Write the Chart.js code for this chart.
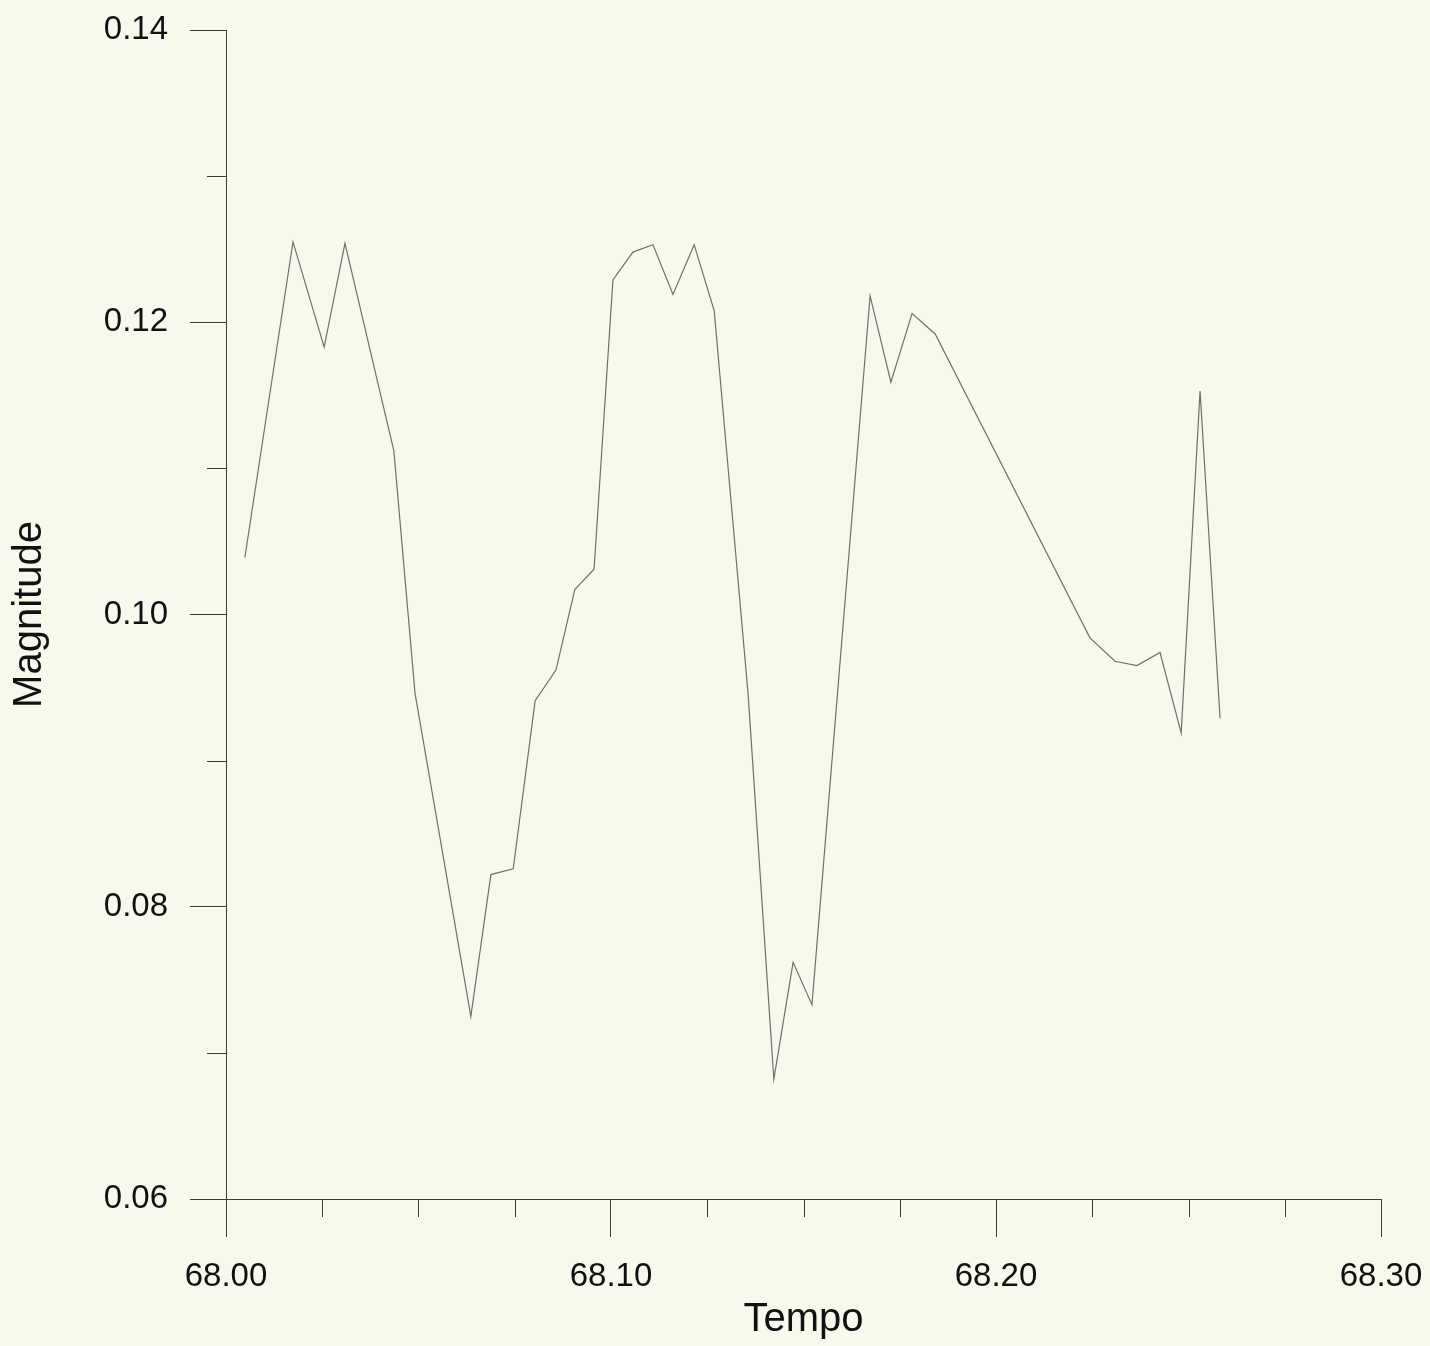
<!DOCTYPE html>
<html lang="pt-BR">
<head>
    <meta charset="UTF-8">
    <title>Magnitude x Tempo</title>
    <script src="https://cdn.jsdelivr.net/npm/chart.js"></script>
    <style>
        body { margin: 0; background: #f9f8ec; }
        .chart-container { width: 1430px; height: 1346px; position: relative; }
    </style>
</head>
<body>
    <div class="chart-container">
        <canvas id="magnitudeChart"></canvas>
    </div>
    <script>
        // dados
        const tempo = [
            68.0049, 68.0174, 68.0255, 68.0309, 68.0436, 68.0491, 68.0636, 68.0688,
            68.0746, 68.0803, 68.0857, 68.0906, 68.0956, 68.1005, 68.1057, 68.1109,
            68.1161, 68.1216, 68.1268, 68.1356, 68.1423, 68.1473, 68.1522, 68.1673,
            68.1727, 68.1782, 68.1842, 68.2244, 68.2309, 68.2366, 68.2426, 68.2481,
            68.2530, 68.2582
        ];
        const magnitude = [
            0.1039, 0.1255, 0.1183, 0.1254, 0.1112, 0.0946, 0.0725, 0.0822,
            0.0826, 0.0941, 0.0962, 0.1017, 0.1031, 0.1229, 0.1248, 0.1253,
            0.1219, 0.1253, 0.1208, 0.0946, 0.0682, 0.0762, 0.0733, 0.1218,
            0.1159, 0.1206, 0.1192, 0.0984, 0.0968, 0.0965, 0.0974, 0.0919,
            0.1153, 0.0929
        ];
        const xTicks = [68.00, 68.10, 68.20, 68.30];
        const xMinorTicks = [68.025, 68.05, 68.075, 68.125, 68.15, 68.175, 68.225, 68.25, 68.275];
        const yTicks = [0.06, 0.08, 0.10, 0.12, 0.14];
        const yMinorTicks = [0.07, 0.09, 0.11, 0.13];

        const axisColor = "#3a3a3a";
        const fontFamily = "'Liberation Sans', Arial, sans-serif";

        // ticks menores (mais curtos) desenhados com as escalas do próprio Chart.js
        const minorTicksPlugin = {
            id: "minorTicks",
            afterDraw(chart) {
                const { ctx, scales: { x, y } } = chart;
                ctx.save();
                ctx.strokeStyle = axisColor;
                ctx.lineWidth = 1;
                ctx.beginPath();
                xMinorTicks.forEach(v => {
                    const px = Math.round(x.getPixelForValue(v)) + 0.5;
                    ctx.moveTo(px, x.top);
                    ctx.lineTo(px, x.top + 18);
                });
                yMinorTicks.forEach(v => {
                    const py = Math.round(y.getPixelForValue(v)) + 0.5;
                    ctx.moveTo(y.right, py);
                    ctx.lineTo(y.right - 19, py);
                });
                ctx.stroke();
                ctx.restore();
            }
        };

        new Chart(document.getElementById("magnitudeChart"), {
            type: "line",
            data: {
                datasets: [{
                    label: "Magnitude",
                    data: tempo.map((t, i) => ({ x: t, y: magnitude[i] })),
                    borderColor: "#707070",
                    borderWidth: 1.2,
                    pointRadius: 0,
                    tension: 0,
                    fill: false
                }]
            },
            options: {
                responsive: true,
                maintainAspectRatio: false,
                animation: false,
                layout: { padding: { top: 30, right: 49, bottom: 0, left: 0 } },
                plugins: {
                    legend: { display: false },
                    tooltip: { enabled: false }
                },
                scales: {
                    x: {
                        type: "linear",
                        min: 68.0,
                        max: 68.3,
                        afterBuildTicks: s => { s.ticks = xTicks.map(v => ({ value: v })); },
                        afterFit: s => {
                            s.height = 147;
                            s.paddingLeft = 0;
                            s.paddingRight = 0;
                        },
                        border: { display: true, color: axisColor, width: 1 },
                        grid: { drawOnChartArea: false, drawTicks: true, tickLength: 38, tickColor: axisColor },
                        ticks: {
                            padding: 20,
                            maxRotation: 0,
                            color: "#111",
                            font: { family: fontFamily, size: 33 },
                            callback: v => Number(v).toFixed(2)
                        },
                        title: {
                            display: true,
                            text: "Tempo",
                            color: "#111",
                            font: { family: fontFamily, size: 40 },
                            padding: { top: 2, bottom: 2 }
                        }
                    },
                    y: {
                        type: "linear",
                        min: 0.06,
                        max: 0.14,
                        afterBuildTicks: s => { s.ticks = yTicks.map(v => ({ value: v })); },
                        afterFit: s => {
                            s.width = 226;
                            s.paddingTop = 0;
                            s.paddingBottom = 0;
                        },
                        border: { display: true, color: axisColor, width: 1 },
                        grid: { drawOnChartArea: false, drawTicks: true, tickLength: 36, tickColor: axisColor },
                        ticks: {
                            padding: 22,
                            color: "#111",
                            font: { family: fontFamily, size: 33 },
                            callback: v => Number(v).toFixed(2)
                        },
                        title: {
                            display: true,
                            text: "Magnitude",
                            color: "#111",
                            font: { family: fontFamily, size: 40 },
                            padding: { top: 6, bottom: 6 }
                        }
                    }
                }
            },
            plugins: [minorTicksPlugin]
        });
    </script>
</body>
</html>
